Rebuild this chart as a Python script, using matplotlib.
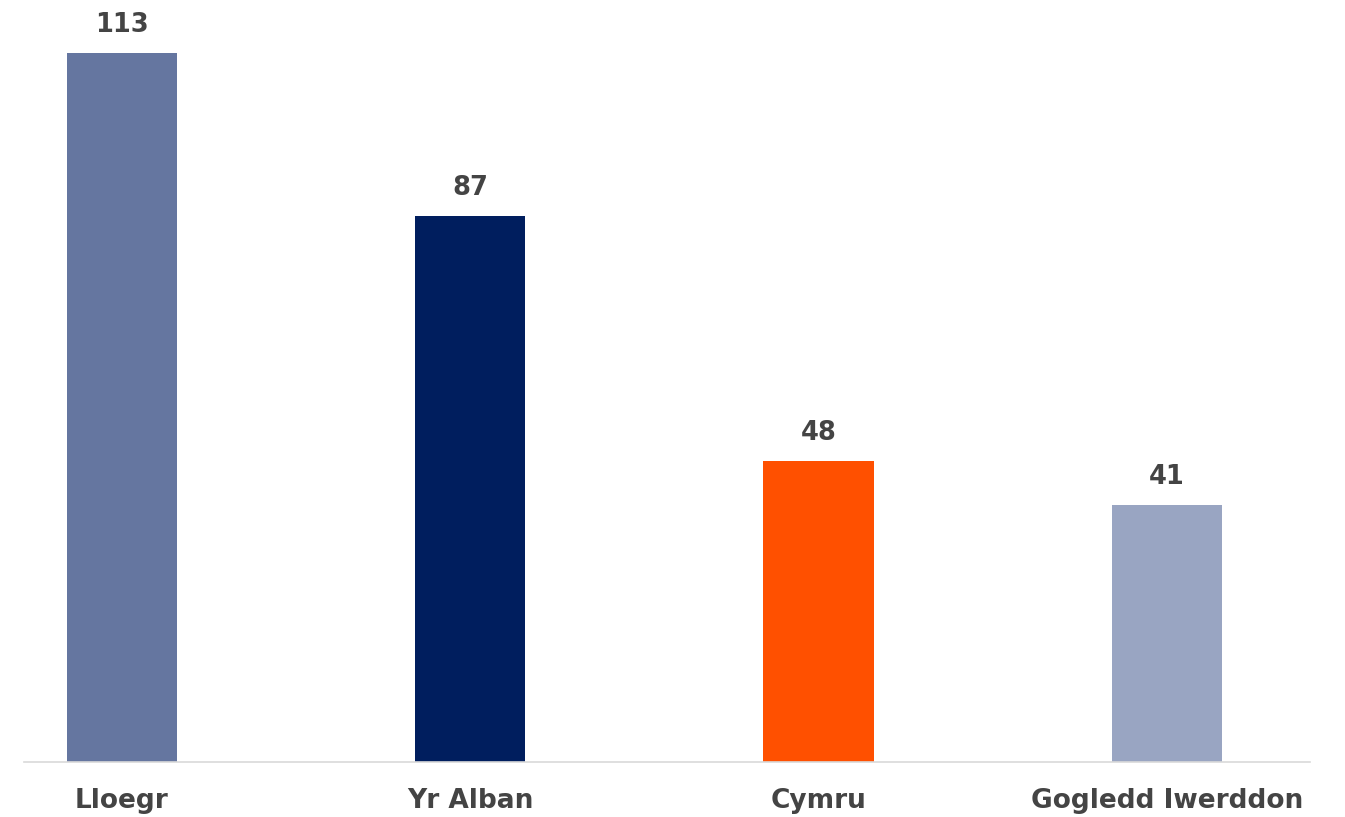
import matplotlib
matplotlib.use('Agg')
from matplotlib import pyplot as plt

categories = ['Lloegr', 'Yr Alban', 'Cymru', 'Gogledd Iwerddon']
values = [113, 87, 48, 41]
colors = ['#6576A0', '#001E5E', '#FF5000', '#99A5C2']

text_color = '#444444'

fig = plt.figure(figsize=(13.45, 8.17), dpi=100)
# axes spans baseline (y=762px) up to near the top
ax = fig.add_axes([24 / 1345, 55 / 817, 1286 / 1345, 752 / 817])

x = list(range(len(categories)))
bars = ax.bar(x, values, width=0.316, color=colors)

ax.set_xlim(-0.281, 3.411)
ax.set_ylim(0, 752 / 6.275)

for bar, v in zip(bars, values):
    ax.annotate(str(v), (bar.get_x() + bar.get_width() / 2, v),
                xytext=(0, 10.5), textcoords='offset points',
                ha='center', va='bottom', fontsize=18.5, fontweight='bold',
                color=text_color)

ax.set_xticks(x)
ax.set_xticklabels(categories, fontsize=19, fontweight='bold', color=text_color)
ax.tick_params(axis='x', length=0, pad=18.5)
ax.set_yticks([])

for side in ['top', 'right', 'left']:
    ax.spines[side].set_visible(False)
ax.spines['bottom'].set_color('#D9D9D9')
ax.spines['bottom'].set_linewidth(1.2)

fig.savefig('out.png', dpi=100)
